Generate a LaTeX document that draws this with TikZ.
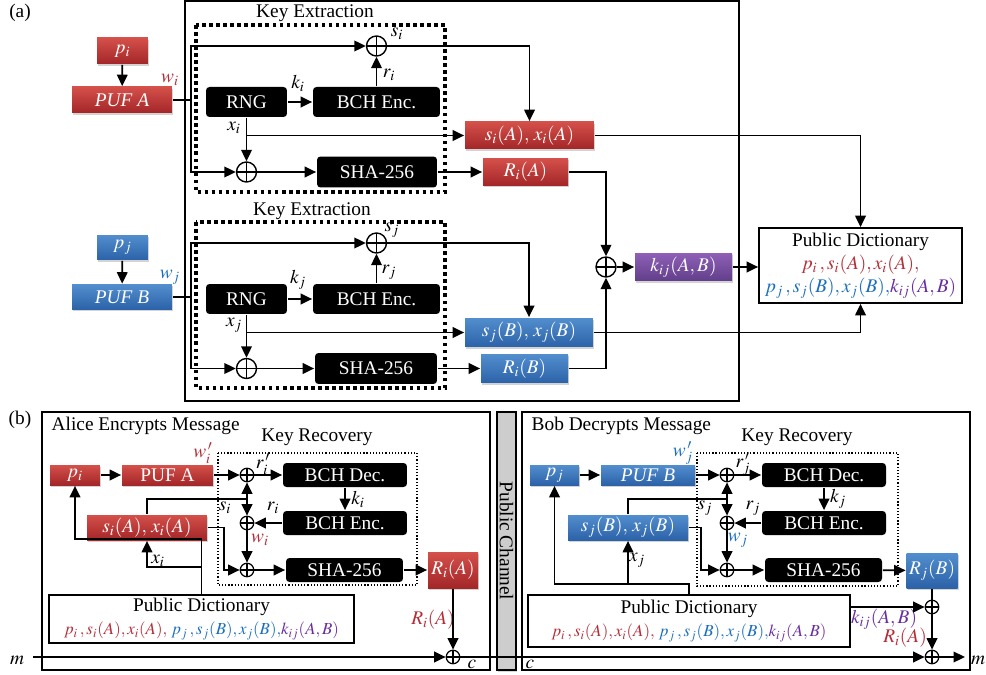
\documentclass[tikz,border=0pt]{standalone}
\usepackage{mathptmx}
\usepackage{fontspec}
\setmainfont{Liberation Serif}
\usetikzlibrary{arrows.meta,shadows}

\definecolor{redtop}{RGB}{212,80,74}
\definecolor{redbot}{RGB}{163,38,40}
\definecolor{bluetop}{RGB}{82,142,206}
\definecolor{bluebot}{RGB}{44,98,168}
\definecolor{purptop}{RGB}{142,96,182}
\definecolor{purpbot}{RGB}{98,62,138}
\definecolor{txtred}{RGB}{180,45,55}
\definecolor{txtblue}{RGB}{25,110,190}
\definecolor{txtpurple}{RGB}{105,45,160}
\definecolor{chgray}{RGB}{205,205,205}

\tikzset{
	colbox/.style={draw=none,text=white,inner sep=1pt,
		drop shadow={shadow xshift=0.8pt,shadow yshift=-1pt,opacity=0.35}},
	redbox/.style={colbox,top color=redtop,bottom color=redbot},
	bluebox/.style={colbox,top color=bluetop,bottom color=bluebot},
	purpbox/.style={colbox,top color=purptop,bottom color=purpbot},
	blackbox/.style={fill=black,text=white,rounded corners=2pt,inner sep=1pt},
	pdbox/.style={draw,fill=white,inner sep=1pt,align=center},
	xor/.style={circle,draw,fill=white,inner sep=0pt,minimum size=0.4cm,line width=0.8pt,
		path picture={\draw[line width=0.8pt] (path picture bounding box.north) -- (path picture bounding box.south)
			(path picture bounding box.west) -- (path picture bounding box.east);}},
	xorsm/.style={xor,minimum size=0.27cm,line width=0.7pt},
	lbl/.style={inner sep=0pt},
	dotthick/.style={line width=2pt,dash pattern=on 2pt off 2pt},
	dotthin/.style={line width=0.6pt,dash pattern=on 0.7pt off 1.1pt},
	sz/.style 2 args={minimum width=#1cm,minimum height=#2cm},
}

\begin{document}
\begin{tikzpicture}[x=0.02cm,y=-0.02cm,line width=1pt,>={Triangle[length=6.5pt,width=6pt]},
	font=\fontsize{11}{13}\selectfont]
	\useasboundingbox (0,0) rectangle (986,675);

	% (a) key extraction
	\node (tagA) at (20,13) {(a)};
	\draw[line width=0.8pt] (185,1) rectangle (739,401);
	\draw[dotthick] (196,25) rectangle (445,192);
	\draw[dotthick] (196,222) rectangle (445,388);
	\node (keA) at (315,13) {Key Extraction};
	\node (keB) at (312,211) {Key Extraction};

	\node[redbox,sz={1.02}{0.52}] (pA) at (122.5,51) {$p_i$};
	\node[redbox,sz={2.0}{0.52}] (pufA) at (122,100) {\textit{PUF A}};
	\node[blackbox,sz={1.62}{0.6}] (rngA) at (246.5,102) {RNG};
	\node[blackbox,sz={2.54}{0.6}] (bchA) at (376.5,102) {BCH Enc.};
	\node[blackbox,sz={2.4}{0.62}] (shaA) at (377,172) {SHA-256};
	\node[xor] (xsA) at (376.5,46) {};
	\node[xor] (xxA) at (246.5,172) {};
	\node[redbox,sz={2.58}{0.54}] (sxA) at (529.5,135.5) {$s_i(A),\,x_i(A)$};
	\node[redbox,sz={1.7}{0.54}] (RA) at (525.5,172) {$R_i(A)$};
	\node[lbl,text=txtred] (wA) at (170,80) {$w_i$};
	\node[lbl] (ksA) at (397,34) {$s_i$};
	\node[lbl] (krA) at (389,75) {$r_i$};
	\node[lbl] (kkA) at (298,83) {$k_i$};
	\node[lbl] (kxA) at (234,128) {$x_i$};

	\node[bluebox,sz={1.02}{0.5}] (pB) at (122.5,247.5) {$p_j$};
	\node[bluebox,sz={2.0}{0.5}] (pufB) at (122,297) {\textit{PUF B}};
	\node[blackbox,sz={1.62}{0.6}] (rngB) at (246.5,299) {RNG};
	\node[blackbox,sz={2.54}{0.6}] (bchB) at (376.5,299) {BCH Enc.};
	\node[blackbox,sz={2.44}{0.62}] (shaB) at (376,368.5) {SHA-256};
	\node[xor] (xsB) at (376.5,243) {};
	\node[xor] (xxB) at (246.5,368.5) {};
	\node[bluebox,sz={2.56}{0.58}] (sxB) at (529,332.5) {$s_j(B),\,x_j(B)$};
	\node[bluebox,sz={1.74}{0.58}] (RB) at (524.5,368.5) {$R_i(B)$};
	\node[lbl,text=txtblue] (wB) at (170,277) {$w_j$};
	\node[lbl] (ksB) at (392,230) {$s_j$};
	\node[lbl] (krB) at (389,272) {$r_j$};
	\node[lbl] (kkB) at (298,280) {$k_j$};
	\node[lbl] (kxB) at (234,325) {$x_j$};

	\node[xor] (xK) at (606,267) {};
	\node[purpbox,sz={1.94}{0.56}] (kAB) at (683.5,267) {$k_{ij}(A,B)$};
	\node[pdbox,sz={4.06}{1.5}] (PD) at (860.5,265.5) {Public Dictionary\\
		\textcolor{txtred}{$p_i\,,s_i(A),x_i(A),$}\\
		\textcolor{txtblue}{$p_j\,,s_j(B),x_j(B),$}\textcolor{txtpurple}{$k_{ij}(A,B)$}};

	\draw[->] (pA) -- (pufA);
	\draw (pufA.east) -- ++(18,0) coordinate (busA);
	\draw[->] (busA) |- (xsA);
	\draw[->] (busA) |- (xxA);
	\draw[->] (rngA) -- (bchA);
	\draw[->] (bchA) -- (xsA);
	\draw[->] (xsA) -| (sxA);
	\draw[->] (rngA) -- (xxA);
	\draw[->] (rngA.south |- sxA.west) coordinate (brA) -- (sxA);
	\draw[->] (xxA) -- (shaA);
	\draw[->] (shaA) -- (RA);
	\draw[->] (sxA) -| (PD);
	\draw[->] (RA) -| (xK);

	\draw[->] (pB) -- (pufB);
	\draw (pufB.east) -- ++(18,0) coordinate (busB);
	\draw[->] (busB) |- (xsB);
	\draw[->] (busB) |- (xxB);
	\draw[->] (rngB) -- (bchB);
	\draw[->] (bchB) -- (xsB);
	\draw[->] (xsB) -| (sxB);
	\draw[->] (rngB) -- (xxB);
	\draw[->] (rngB.south |- sxB.west) coordinate (brB) -- (sxB);
	\draw[->] (xxB) -- (shaB);
	\draw[->] (shaB) -- (RB);
	\draw[->] (sxB) -| (PD);
	\draw[->] (RB) -| (xK);

	\draw[->] (xK) -- (kAB);
	\draw[->] (kAB) -- (kAB -| PD.west);

	% (b) encryption and decryption
	\node (tagB) at (20,420) {(b)};
	\draw[line width=0.8pt] (42,412) rectangle (490,670);
	\draw[line width=0.8pt] (522,412) rectangle (970,670);
	\node[draw,fill=chgray,line width=0.8pt,rotate=-90,sz={5.16}{0.38},inner sep=0pt,
		drop shadow={shadow xshift=0.8pt,shadow yshift=-1pt,opacity=0.3}] (pch) at (506.5,541) {Public Channel};

	\node[anchor=west] (ttA) at (45,426) {Alice Encrypts Message};
	\node (krecA) at (317,437) {Key Recovery};
	\draw[dotthin] (218,453) rectangle (417,585);
	\node[redbox,sz={1.0}{0.4}] (pA2) at (75,475) {$p_i$};
	\node[redbox,sz={1.82}{0.4}] (pufA2) at (167.5,475) {PUF A};
	\node[xorsm] (x1A) at (247,475) {};
	\node[blackbox,sz={2.48}{0.48}] (decA) at (345,475) {BCH Dec.};
	\node[blackbox,sz={2.48}{0.48}] (encA) at (345,523) {BCH Enc.};
	\node[xorsm] (x2A) at (247,523) {};
	\node[xorsm] (x3A) at (247,570) {};
	\node[blackbox,sz={2.34}{0.48}] (shaA2) at (344.5,570) {SHA-256};
	\node[redbox,sz={1.0}{0.72}] (RA2) at (453,570) {$R_i(A)$};
	\node[redbox,sz={2.4}{0.5}] (sxA2) at (147,527.5) {$s_i(A),\,x_i(A)$};
	\node[pdbox,sz={6.1}{0.96}] (PDA) at (201.5,619) {Public Dictionary\\
		{\fontsize{9.6}{12}\selectfont\textcolor{txtred}{$p_i\,,s_i(A),x_i(A),$} \textcolor{txtblue}{$p_j\,,s_j(B),x_j(B),$}\textcolor{txtpurple}{$k_{ij}(A,B)$}}};
	\node[xorsm] (x4A) at (453,657) {};
	\coordinate (mIn) at (33,657);
	\node (mA) at (17,660) {$m$};
	\node[lbl,text=txtred] (wpA) at (203,453) {$w_i^{\,\prime}$};
	\node[lbl] (rpA) at (263,464) {$r_i^{\,\prime}$};
	\node[lbl] (kiA) at (358,499) {$k_i$};
	\node[lbl] (riA) at (273,508) {$r_i$};
	\node[lbl] (siA) at (225,508) {$s_i$};
	\node[lbl,text=txtred] (wiA) at (260,540) {$w_i$};
	\node[lbl] (xiA) at (158,561) {$x_i$};
	\node[lbl,text=txtred] (RiA) at (433,620) {$R_i(A)$};
	\node[lbl] (cA) at (472,664) {$c$};

	\draw[->] (pA2) -- (pufA2);
	\draw[->] (pufA2) -- (x1A);
	\draw[->] (x1A) -- (decA);
	\draw[->] (decA) -- (encA);
	\draw[->] (encA) -- (x2A);
	\coordinate (sjA) at (247,499);
	\draw (sxA2) |- (sjA);
	\draw[->] (sjA) -- (x1A);
	\draw[->] (sjA) -- (x2A);
	\draw[->] (x2A) -- (x3A);
	\draw[->] (sxA2.east) -- ++(16,0) |- (x3A);
	\draw[->] (x3A) -- (shaA2);
	\draw[->] (shaA2) -- (RA2);
	\draw[->] (RA2) -- (x4A);
	\draw[->] (PDA.north) -- ++(0,-55) -| (pA2);
	\draw[->] (PDA.north) ++(0,-27) -| (sxA2);
	\draw[->] (mIn) -- (x4A);

	\node[anchor=west] (ttB) at (525,426) {Bob Decrypts Message};
	\node (krecB) at (797,437) {Key Recovery};
	\draw[dotthin] (697,453) rectangle (898,586);
	\node[bluebox,sz={0.98}{0.4}] (pB2) at (554.5,475) {$p_j$};
	\node[bluebox,sz={1.88}{0.4}] (pufB2) at (648,475) {\textit{PUF B}};
	\node[xorsm] (x1B) at (727,475) {};
	\node[blackbox,sz={2.48}{0.48}] (decB) at (824,475) {BCH Dec.};
	\node[blackbox,sz={2.48}{0.48}] (encB) at (824,523) {BCH Enc.};
	\node[xorsm] (x2B) at (727,523) {};
	\node[xorsm] (x3B) at (727,570) {};
	\node[blackbox,sz={2.34}{0.48}] (shaB2) at (823.5,570) {SHA-256};
	\node[bluebox,sz={1.02}{0.7}] (RB2) at (932,570.5) {$R_j(B)$};
	\node[bluebox,sz={2.4}{0.5}] (sxB2) at (628,527.5) {$s_j(B),\,x_j(B)$};
	\node[pdbox,sz={6.44}{1.04}] (PDB) at (689,621) {Public Dictionary\\
		{\fontsize{9.6}{12}\selectfont\textcolor{txtred}{$p_i\,,s_i(A),x_i(A),$} \textcolor{txtblue}{$p_j\,,s_j(B),x_j(B),$}\textcolor{txtpurple}{$k_{ij}(A,B)$}}};
	\node[xorsm] (x4B) at (932,607) {};
	\node[xorsm] (x5B) at (932,657) {};
	\coordinate (mOut) at (965,657);
	\node (mB) at (978,660) {$m$};
	\node[lbl,text=txtblue] (wpB) at (683,453) {$w_j^{\,\prime}$};
	\node[lbl] (rpB) at (743,464) {$r_j^{\,\prime}$};
	\node[lbl] (kjB) at (838,499) {$k_j$};
	\node[lbl] (rjB) at (753,508) {$r_j$};
	\node[lbl] (sjBl) at (705,508) {$s_j$};
	\node[lbl,text=txtblue] (wjB) at (738,540) {$w_j$};
	\node[lbl] (xjB) at (637,560) {$x_j$};
	\node[lbl,text=txtpurple] (kijB) at (884,619) {$k_{ij}(A,B)$};
	\node[lbl,text=txtred] (RiB) at (905,638) {$R_i(A)$};
	\node[lbl] (cB) at (530,664) {$c$};

	\draw[->] (pB2) -- (pufB2);
	\draw[->] (pufB2) -- (x1B);
	\draw[->] (x1B) -- (decB);
	\draw[->] (decB) -- (encB);
	\draw[->] (encB) -- (x2B);
	\coordinate (sjB) at (727,499);
	\draw (sxB2) |- (sjB);
	\draw[->] (sjB) -- (x1B);
	\draw[->] (sjB) -- (x2B);
	\draw[->] (x2B) -- (x3B);
	\draw[->] (sxB2.east) -- ++(12,0) |- (x3B);
	\draw[->] (x3B) -- (shaB2);
	\draw[->] (shaB2) -- (RB2);
	\draw (RB2) -- (x4B);
	\draw[->] (x4B) -- (x5B);
	\draw[->] (PDB.east |- x4B) -- (x4B);
	\draw[->] (PDB.north) -- ++(0,-10) -| (pB2);
	\draw[->] (PDB.north) ++(0,-10) -| (sxB2);
	\draw[->] (x4A) -- (x5B);
	\draw[->] (x5B) -- (mOut);
\end{tikzpicture}
\end{document}
